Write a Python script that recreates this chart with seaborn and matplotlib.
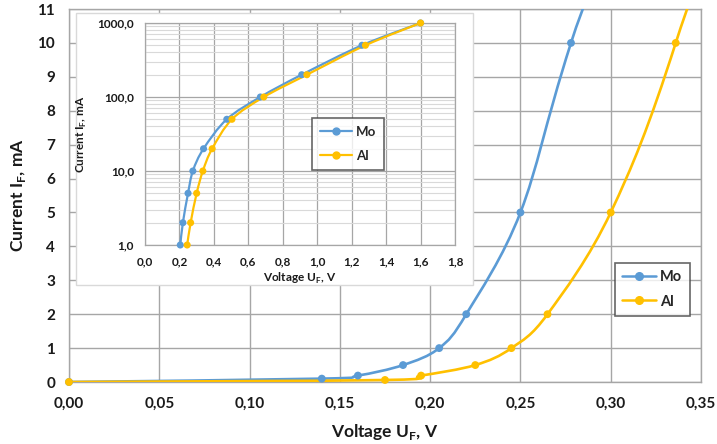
import matplotlib
matplotlib.use("Agg")
import numpy as np
import pandas as pd
import matplotlib.pyplot as plt
import seaborn as sns
from matplotlib.path import Path
from matplotlib.patches import PathPatch, Rectangle
from matplotlib.lines import Line2D
from matplotlib.ticker import FuncFormatter, MultipleLocator, LogLocator, NullFormatter

# forward voltage (V) / current (mA)
mo_u = [0.0, 0.14, 0.16, 0.185, 0.205, 0.22, 0.25, 0.278, 0.34, 0.475, 0.67, 0.91, 1.26, 1.6]
mo_i = [0.0, 0.1, 0.19, 0.5, 1, 2, 5, 10, 20, 50, 100, 200, 500, 1000]
al_u = [0.0, 0.175, 0.195, 0.225, 0.245, 0.265, 0.30, 0.336, 0.39, 0.505, 0.69, 0.94, 1.28, 1.6]
al_i = [0.0, 0.06, 0.19, 0.5, 1, 2, 5, 10, 20, 50, 100, 200, 500, 1000]

series = ["Mo", "Al"]
colors = {"Mo": "#5B9BD5", "Al": "#FFC000"}

df = pd.concat([
    pd.DataFrame({"U": mo_u, "I": mo_i, "metal": "Mo"}),
    pd.DataFrame({"U": al_u, "I": al_i, "metal": "Al"}),
], ignore_index=True)

sns.set_style("white")
plt.rcParams["font.family"] = ["Lato", "DejaVu Sans"]
plt.rcParams["mathtext.fontset"] = "custom"
plt.rcParams["mathtext.rm"] = "Lato:bold"
plt.rcParams["mathtext.bf"] = "Lato:bold"

GRID = "#a6a6a6"
TXT = "#1a1a1a"


def smooth_patch(x, y, color, logy=False, lw=1.8):
    # excel-like smoothed line: catmull-rom as cubic bezier
    x = np.asarray(x, float)
    y = np.asarray(y, float)
    ty = np.log10(y) if logy else y
    p = np.column_stack([x, ty])
    ext = np.vstack([p[0], p, p[-1]])
    verts = [p[0]]
    codes = [Path.MOVETO]
    for k in range(len(p) - 1):
        p0, p1, p2, p3 = ext[k], ext[k + 1], ext[k + 2], ext[k + 3]
        verts += [p1 + (p2 - p0) / 6, p2 - (p3 - p1) / 6, p2]
        codes += [Path.CURVE4] * 3
    verts = np.array(verts)
    if logy:
        verts[:, 1] = 10 ** verts[:, 1]
    return PathPatch(Path(verts, codes), facecolor="none", edgecolor=color, lw=lw, zorder=3)


def comma(fmt):
    return FuncFormatter(lambda v, p: format(v, fmt).replace(".", ","))


fig = plt.figure(figsize=(7.17, 4.44), dpi=100)

# ---- main chart
ax = fig.add_axes([0.0962, 0.1396, 0.8815, 0.8401])
for m in series:
    d = df[df.metal == m]
    ax.add_patch(smooth_patch(d.U, d.I, colors[m], lw=1.9))
sns.scatterplot(data=df[df.I <= 11], x="U", y="I", hue="metal", palette=colors, s=32,
                edgecolor="none", legend=False, zorder=4, ax=ax, clip_on=False)
ax.set_xlim(0, 0.35)
ax.set_ylim(0, 11)
ax.xaxis.set_major_locator(MultipleLocator(0.05))
ax.yaxis.set_major_locator(MultipleLocator(1))
ax.xaxis.set_major_formatter(comma(".2f"))
ax.yaxis.set_major_formatter(comma(".0f"))
ax.grid(True, color=GRID, lw=1)
ax.set_axisbelow(True)
for s in ax.spines.values():
    s.set_color(GRID)
    s.set_linewidth(1)
ax.tick_params(length=5, color=GRID, width=1, labelsize=11, labelcolor=TXT)
ax.tick_params(axis="x", pad=6)
ax.tick_params(axis="y", pad=5)
for t in ax.get_xticklabels() + ax.get_yticklabels():
    t.set_fontweight("bold")
ax.set_xlabel("Voltage U$_\\mathrm{F}$, V", fontsize=12.5, fontweight="bold", color=TXT, labelpad=8)
ax.set_ylabel("Current I$_\\mathrm{F}$, mA", fontsize=12.5, fontweight="bold", color=TXT, labelpad=7)

handles = [Line2D([], [], color=colors[m], lw=1.8, marker="o", ms=5.5) for m in series]
leg = ax.legend(handles, series, loc="upper left", bbox_to_anchor=(0.864, 0.319),
                borderaxespad=0, frameon=True, fancybox=False,
                prop={"weight": "bold", "size": 10.5},
                handlelength=2.3, borderpad=0.5, labelspacing=0.7, handletextpad=0.3)
leg.get_frame().set_edgecolor("#404040")
leg.get_frame().set_linewidth(1.2)

# ---- inset chart
bg = Rectangle((0.106, 0.358), 0.5537, 0.6126, transform=fig.transFigure,
               facecolor="white", edgecolor="#d9d9d9", lw=1, zorder=5)
fig.add_artist(bg)

ins = fig.add_axes([0.2022, 0.4482, 0.4324, 0.5], zorder=6)
dl = df[df.I >= 1]
for m in series:
    d = dl[dl.metal == m]
    ins.add_patch(smooth_patch(d.U, d.I, colors[m], logy=True, lw=1.6))
ins.set_yscale("log")
sns.scatterplot(data=dl, x="U", y="I", hue="metal", palette=colors, s=26,
                edgecolor="none", legend=False, zorder=4, ax=ins, clip_on=False)
ins.set_xlim(0, 1.8)
ins.set_ylim(1, 1000)
ins.xaxis.set_major_locator(MultipleLocator(0.2))
ins.xaxis.set_major_formatter(comma(".1f"))
ins.yaxis.set_major_locator(LogLocator(base=10, numticks=10))
ins.yaxis.set_minor_locator(LogLocator(base=10, subs=np.arange(2, 10), numticks=20))
ins.yaxis.set_major_formatter(comma(".1f"))
ins.yaxis.set_minor_formatter(NullFormatter())
ins.grid(True, which="major", color=GRID, lw=0.9)
ins.grid(True, which="minor", axis="y", color="#d9d9d9", lw=0.8)
ins.set_axisbelow(True)
for s in ins.spines.values():
    s.set_color(GRID)
    s.set_linewidth(0.9)
ins.tick_params(which="major", length=4, color=GRID, width=0.9, labelsize=8.5, labelcolor=TXT, pad=4)
ins.tick_params(which="minor", length=0)
for t in ins.get_xticklabels() + ins.get_yticklabels():
    t.set_fontweight("bold")
ins.set_xlabel("Voltage U$_\\mathrm{F}$, V", fontsize=8.5, fontweight="bold", color=TXT, labelpad=3)
ins.set_ylabel("Current I$_\\mathrm{F}$, mA", fontsize=8.5, fontweight="bold", color=TXT, labelpad=6)

handles = [Line2D([], [], color=colors[m], lw=1.6, marker="o", ms=5) for m in series]
leg2 = ins.legend(handles, series, loc="upper left", bbox_to_anchor=(0.539, 0.572),
                  borderaxespad=0, frameon=True, fancybox=False,
                  prop={"weight": "bold", "size": 9.5},
                  handlelength=2.4, borderpad=0.6, labelspacing=0.9, handletextpad=0.3)
leg2.get_frame().set_edgecolor("#404040")
leg2.get_frame().set_linewidth(1.2)

fig.savefig("out.png", dpi=100)
